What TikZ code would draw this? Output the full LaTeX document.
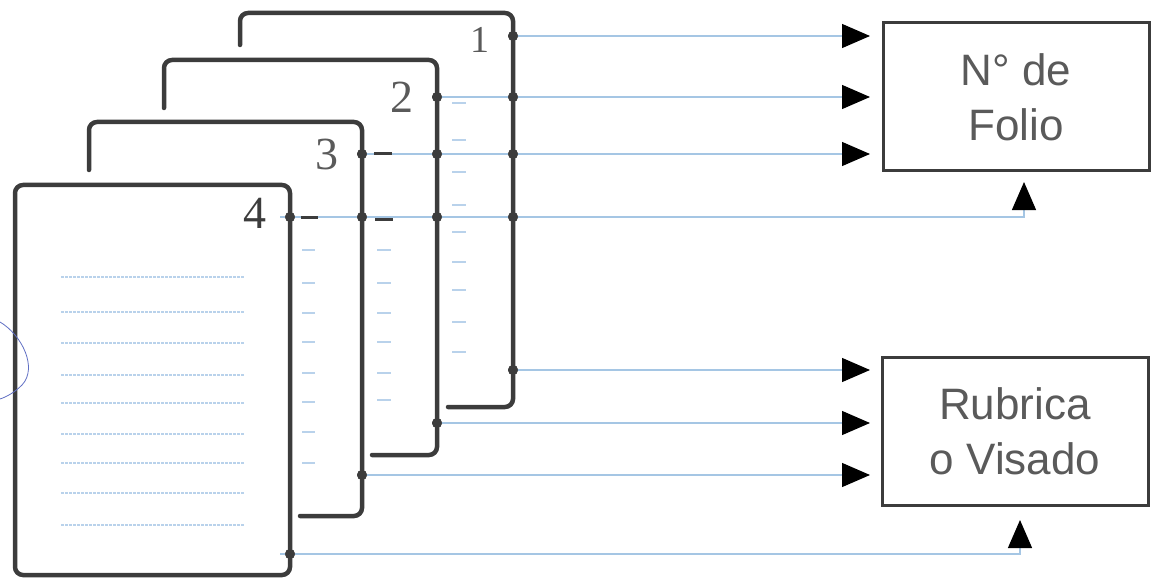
\documentclass[tikz,border=0pt]{standalone}
\usepackage{fontspec}
\setmainfont{Liberation Sans}
\newfontfamily\numfont{Liberation Serif}
\usetikzlibrary{arrows.meta}
\definecolor{pagec}{HTML}{3C3C3C}
\definecolor{linkc}{RGB}{165,198,228}
\definecolor{faintc}{RGB}{185,210,235}
\definecolor{txtc}{HTML}{5A5A5A}
\definecolor{penc}{RGB}{95,110,195}
\begin{document}
\begin{tikzpicture}[x=1pt,y=-1pt,
  page/.style={draw=pagec,line width=4.5pt,rounded corners=8pt,line cap=round},
  labelbox/.style={draw=pagec,line width=3pt,minimum width=266pt,minimum height=148pt,
    font=\fontsize{44}{55}\selectfont,text=txtc,align=center,inner sep=0pt},
  num/.style={font=\numfont\fontsize{46}{46}\selectfont,text=txtc,inner sep=0pt},
  dot/.style={circle,fill=pagec,inner sep=0pt,minimum size=10pt},
  link/.style={draw=linkc,line width=1.3pt},
  arr/.style={link,-{Triangle[length=28pt,width=24pt,color=black]}},
  txtline/.style={draw=faintc,line width=1.2pt,dash pattern=on 3pt off 1pt},
  faintmark/.style={draw=faintc,line width=1.2pt},
  darkdash/.style={draw=pagec,line width=3pt}
]
\useasboundingbox (0,0) rectangle (1153,580);

% pages
\draw[page] (240,45) -- (240,13) -- (513,13) -- (513,407) -- (448,407);
\draw[page] (164,108) -- (164,60) -- (437,60) -- (437,455) -- (372,455);
\draw[page] (89,170) -- (89,122) -- (362,122) -- (362,516) -- (300,516);
\draw[page] (15,185) rectangle (290,575);

% page numbers
\node[num,font=\numfont\fontsize{38}{38}\selectfont] (n1) at (480,40) {1};
\node[num] (n2) at (402,97) {2};
\node[num] (n3) at (327,154) {3};
\node[num,text=pagec] (n4) at (255,213) {4};

% faint text lines on front page
\foreach \y in {277,312,343,375,403,434,463,493,525}
  \draw[txtline] (61,\y) -- (244,\y);

% faint marks between pages
\foreach \y in {250,283,313,342,373,402,432,463}
  \draw[faintmark] (302,\y) -- (315,\y);
\foreach \y in {250,283,313,342,373,400}
  \draw[faintmark] (377,\y) -- (391,\y);
\foreach \y in {103,140,172,205,232,262,290,322,352}
  \draw[faintmark] (452,\y) -- (466,\y);

% label boxes
\node[labelbox] (folio) at (1016,97) {N° de\\Folio};
\node[labelbox] (rubrica) at (1015,431) {Rubrica\\o Visado};

% dots on page edges
\node[dot] (a1) at (513,36) {};
\node[dot] (a2) at (513,97) {};
\node[dot] (a3) at (513,154) {};
\node[dot] (a4) at (513,217) {};
\node[dot] (a5) at (513,370) {};
\node[dot] (b2) at (437,97) {};
\node[dot] (b3) at (437,154) {};
\node[dot] (b4) at (437,217) {};
\node[dot] (b5) at (437,423) {};
\node[dot] (c3) at (362,154) {};
\node[dot] (c4) at (362,217) {};
\node[dot] (c5) at (362,475) {};
\node[dot] (d4) at (290,217) {};
\node[dot] (d5) at (290,554) {};

% arrow end points
\coordinate (f1) at (870,36);
\coordinate (f2) at (870,97);
\coordinate (f3) at (870,154);
\coordinate (fup) at (1024,182);
\coordinate (r1) at (870,370);
\coordinate (r2) at (870,423);
\coordinate (r3) at (870,475);
\coordinate (rup) at (1020,520);

% connectors
\draw[arr] (a1.center) -- (f1);
\draw[arr] (b2.center) -- (f2);
\draw[arr] (c3.center) -- (f3);
\draw[arr] ([xshift=-10pt]d4.center) -| (fup);
\draw[arr] (a5.center) -- (r1);
\draw[arr] (b5.center) -- (r2);
\draw[arr] (c5.center) -- (r3);
\draw[arr] ([xshift=-10pt]d5.center) -| (rup);

% dark dashes beside the edges
\draw[darkdash] (301,217) -- (318,217);
\draw[darkdash] (375,219) -- (393,219);
\draw[darkdash] (374,154) -- (392,154);

% redraw dots on top
\foreach \n in {a1,a2,a3,a4,a5,b2,b3,b4,b5,c3,c4,c5,d4,d5}
  \fill[pagec] (\n) circle (5pt);

% pen mark
\draw[penc,line width=0.8pt] (0,322) .. controls (22,335) and (38,368) .. (22,385) .. controls (14,393) and (6,397) .. (0,399);
\end{tikzpicture}
\end{document}
